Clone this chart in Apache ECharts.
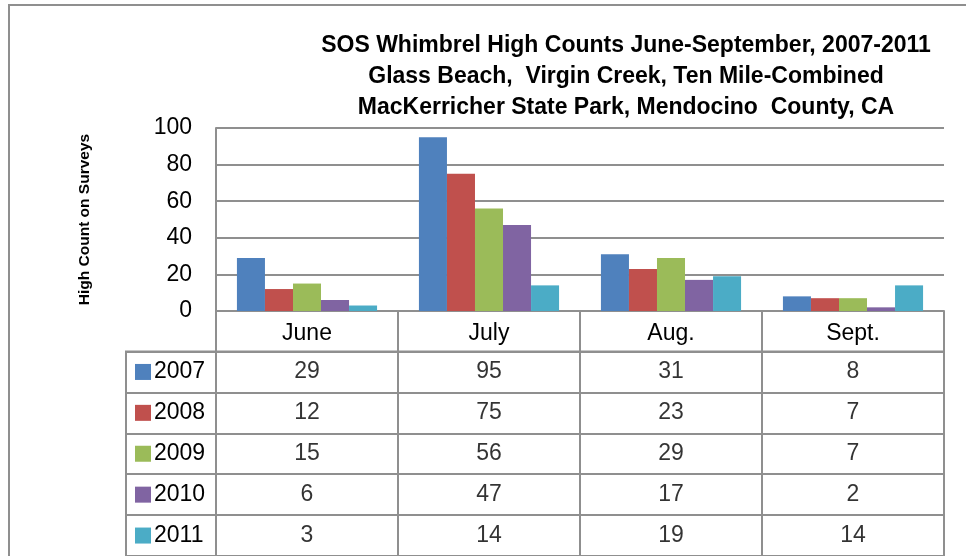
<!DOCTYPE html>
<html>
<head>
<meta charset="utf-8">
<script src="https://cdn.jsdelivr.net/npm/echarts@6/dist/echarts.min.js"></script>
<style>
  html, body { margin: 0; padding: 0; background: #fff; }
  #charts { width: 966px; height: 556px; }
</style>
</head>
<body>
<div id="charts"></div>
<script>
// data
var months = ['June', 'July', 'Aug.', 'Sept.'];
var years = ['2007', '2008', '2009', '2010', '2011'];
var counts2007 = [29, 95, 31, 8];
var counts2008 = [12, 75, 23, 7];
var counts2009 = [15, 56, 29, 7];
var counts2010 = [6, 47, 17, 2];
var counts2011 = [3, 14, 19, 14];
var allCounts = [counts2007, counts2008, counts2009, counts2010, counts2011];
var colors = ['#4F81BD', '#C0504D', '#9BBB59', '#8064A2', '#4BACC6'];
var titleLines = [
    'SOS Whimbrel High Counts June-September, 2007-2011',
    'Glass Beach,  Virgin Creek, Ten Mile-Combined',
    'MacKerricher State Park, Mendocino  County, CA'
];

var font = "'Liberation Sans', Arial, sans-serif";
var lineGray = '#8f8f8f';

var myChart = echarts.init(document.getElementById('charts'));

// legend squares for the year column
var rich = { g: { width: 3 }, t: { fontSize: 23, color: '#000', fontFamily: font } };
for (var k = 0; k < colors.length; k++) {
    rich['b' + k] = { width: 16, height: 16, backgroundColor: colors[k] };
}

// bar series
var series = [];
for (var i = 0; i < years.length; i++) {
    series.push({
        name: years[i],
        type: 'bar',
        xAxisIndex: 0,
        yAxisIndex: 0,
        barGap: '0%',
        barCategoryGap: '23%',
        itemStyle: { color: colors[i] },
        data: allCounts[i]
    });
}

// values written in the data table
var cells = [];
for (var r = 0; r < years.length; r++) {
    for (var c = 0; c < months.length; c++) {
        cells.push([c, r, allCounts[r][c]]);
    }
}
series.push({
    type: 'scatter',
    xAxisIndex: 2,
    yAxisIndex: 2,
    symbol: 'rect',
    symbolSize: 1,
    itemStyle: { color: 'rgba(0,0,0,0)' },
    label: {
        show: true,
        position: 'inside',
        color: '#000',
        fontSize: 23,
        fontFamily: font,
        formatter: function (p) { return p.value[2]; }
    },
    data: cells
});

option = {
    animation: false,
    backgroundColor: '#fff',
    textStyle: { fontFamily: font },
    title: {
        text: titleLines.join('\n'),
        left: 626,
        top: 30,
        padding: 0,
        textAlign: 'center',
        textStyle: {
            fontFamily: font,
            fontSize: 23,
            fontWeight: 'bold',
            color: '#000',
            lineHeight: 31
        }
    },
    graphic: [{
        type: 'rect',
        shape: { x: 9, y: 5, width: 1000, height: 600 },
        style: { fill: 'none', stroke: lineGray, lineWidth: 2 },
        silent: true
    }],
    grid: [
        // bars
        { left: 216, top: 128, width: 728, height: 183 },
        // year column of the table
        { left: 126, top: 351.5, width: 90, height: 207.5, show: true, borderColor: lineGray, borderWidth: 2 },
        // value cells of the table
        { left: 216, top: 351.5, width: 728, height: 207.5, show: true, borderColor: lineGray, borderWidth: 2 }
    ],
    xAxis: [
        {
            gridIndex: 0,
            type: 'category',
            data: months,
            axisLine: { show: true, lineStyle: { color: lineGray, width: 2 } },
            axisTick: { show: true, interval: 0, length: 40, lineStyle: { color: lineGray, width: 2 } },
            axisLabel: { interval: 0, margin: 11, fontSize: 23, color: '#000', fontFamily: font }
        },
        {
            gridIndex: 1,
            type: 'category',
            data: [''],
            show: false
        },
        {
            gridIndex: 2,
            type: 'category',
            data: months,
            axisLine: { show: false },
            axisTick: { show: false },
            axisLabel: { show: false },
            splitLine: { show: true, interval: 0, lineStyle: { color: lineGray, width: 2 } }
        }
    ],
    yAxis: [
        {
            gridIndex: 0,
            type: 'value',
            min: 0,
            max: 100,
            interval: 20,
            name: 'High Count on Surveys',
            nameLocation: 'middle',
            nameGap: 123,
            nameTextStyle: { fontSize: 15.5, fontWeight: 'bold', color: '#000', fontFamily: font },
            axisLine: { show: true, lineStyle: { color: lineGray, width: 2 } },
            axisTick: { show: false },
            axisLabel: { margin: 24, fontSize: 23, color: '#000', fontFamily: font },
            splitLine: { show: true, lineStyle: { color: lineGray, width: 2 } }
        },
        {
            gridIndex: 1,
            type: 'category',
            data: years,
            inverse: true,
            axisLine: { show: false },
            axisTick: { show: false },
            axisLabel: {
                inside: true,
                margin: 9,
                interval: 0,
                formatter: function (v, idx) {
                    return '{b' + idx + '|}{g|}{t|' + v + '}';
                },
                rich: rich
            },
            splitLine: { show: true, interval: 0, lineStyle: { color: lineGray, width: 2 } }
        },
        {
            gridIndex: 2,
            type: 'category',
            data: years,
            inverse: true,
            axisLine: { show: false },
            axisTick: { show: false },
            axisLabel: { show: false },
            splitLine: { show: true, interval: 0, lineStyle: { color: lineGray, width: 2 } }
        }
    ],
    series: series
};

myChart.setOption(option);
</script>
</body>
</html>
